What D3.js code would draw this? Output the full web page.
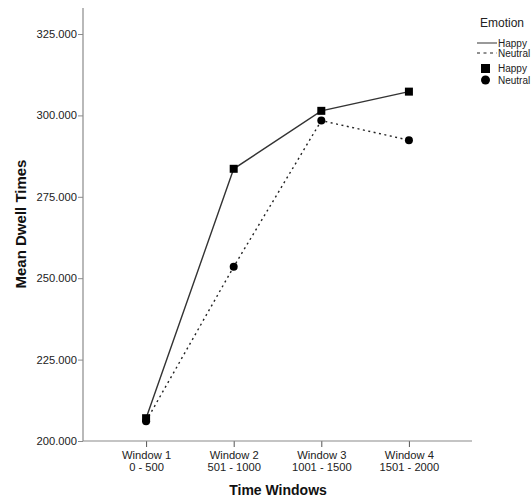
<!DOCTYPE html>
<html>
<head>
<meta charset="utf-8">
<script src="https://cdn.jsdelivr.net/npm/d3@7"></script>
<style>
  html, body { margin: 0; padding: 0; background: #fff; }
  svg { display: block; font-family: Arial, "Liberation Sans", sans-serif; }
</style>
</head>
<body>
<svg id="chart" width="532" height="500"></svg>
<script>
// Time windows (two-line labels) and mean dwell times per emotion
const windows = ["Window 1", "Window 2", "Window 3", "Window 4"];
const windowRanges = ["0 - 500", "501 - 1000", "1001 - 1500", "1501 - 2000"];
const happyValues = [207.0, 283.6, 301.4, 307.3];
const neutralValues = [206.1, 253.5, 298.4, 292.4];
const yTicks = [200, 225, 250, 275, 300, 325];
const legendLabels = ["Happy", "Neutral"];

const svg = d3.select("#chart");
const axisColor = "#8a8a8a";
const inkColor = "#222";

const plotLeft = 83, plotRight = 472, plotTop = 8, plotBottom = 441;

const x = d3.scalePoint().domain(windows).range([plotLeft, plotRight]).padding(0.72);
const y = d3.scaleLinear().domain([200, 325]).range([plotBottom, 34]);

// Y axis
const yAxis = svg.append("g").attr("transform", `translate(${plotLeft},0)`)
  .call(d3.axisLeft(y).tickValues(yTicks).tickSize(5).tickPadding(1)
    .tickFormat(d3.format(".3f")));
yAxis.select(".domain").remove();
yAxis.selectAll(".tick line").attr("stroke", axisColor);
yAxis.selectAll(".tick text").attr("fill", inkColor).style("font-size", "11.2px");
svg.append("line").attr("x1", plotLeft).attr("x2", plotLeft).attr("y1", plotTop).attr("y2", plotBottom)
  .attr("stroke", axisColor).attr("stroke-width", 1.2);

// X axis
const xAxis = svg.append("g").attr("transform", `translate(0,${plotBottom})`)
  .call(d3.axisBottom(x).tickSize(6).tickFormat(""));
xAxis.select(".domain").remove();
xAxis.selectAll(".tick line").attr("stroke", "#555");
svg.append("line").attr("x1", plotLeft).attr("x2", plotRight).attr("y1", plotBottom).attr("y2", plotBottom)
  .attr("stroke", axisColor).attr("stroke-width", 1.2);
xAxis.selectAll(".tick").each(function(d, i) {
  const t = d3.select(this).append("text")
    .attr("fill", inkColor).attr("text-anchor", "middle")
    .style("font-size", "11.2px");
  t.append("tspan").attr("x", 0).attr("y", 18).text(d);
  t.append("tspan").attr("x", 0).attr("y", 29.5).text(windowRanges[i]);
});

// Axis titles
svg.append("text").attr("x", 278).attr("y", 495)
  .attr("text-anchor", "middle").attr("font-weight", "bold")
  .style("font-size", "14px").attr("fill", "#111").text("Time Windows");
svg.append("text").attr("transform", "translate(26,224) rotate(-90)")
  .attr("text-anchor", "middle").attr("font-weight", "bold")
  .style("font-size", "15px").attr("fill", "#111").text("Mean Dwell Times");

// Lines
const line = d3.line().x((d, i) => x(windows[i])).y(d => y(d));
svg.append("path").datum(happyValues).attr("d", line)
  .attr("fill", "none").attr("stroke", "#333").attr("stroke-width", 1.4);
svg.append("path").datum(neutralValues).attr("d", line)
  .attr("fill", "none").attr("stroke", "#222").attr("stroke-width", 1.4)
  .attr("stroke-dasharray", "2,3.5");

// Markers
svg.selectAll(".neutral-pt").data(neutralValues).enter().append("circle")
  .attr("cx", (d, i) => x(windows[i])).attr("cy", d => y(d)).attr("r", 4)
  .attr("fill", "#000");
svg.selectAll(".happy-pt").data(happyValues).enter().append("rect")
  .attr("x", (d, i) => x(windows[i]) - 4).attr("y", d => y(d) - 4)
  .attr("width", 8).attr("height", 8).attr("fill", "#000");

// Legend
const lg = svg.append("g");
lg.append("text").attr("x", 480).attr("y", 27).style("font-size", "12px")
  .attr("fill", inkColor).text("Emotion");
lg.append("line").attr("x1", 477).attr("x2", 497).attr("y1", 43).attr("y2", 43)
  .attr("stroke", "#555").attr("stroke-width", 1.2);
lg.append("line").attr("x1", 477).attr("x2", 497).attr("y1", 53).attr("y2", 53)
  .attr("stroke", "#222").attr("stroke-width", 1.2).attr("stroke-dasharray", "3,3.5");
lg.append("rect").attr("x", 481).attr("y", 64).attr("width", 9).attr("height", 9).attr("fill", "#000");
lg.append("circle").attr("cx", 485.5).attr("cy", 80).attr("r", 4.5).attr("fill", "#000");
const legendYs = [46.5, 56.5, 72, 83.5];
[0, 1, 0, 1].forEach((k, i) => {
  lg.append("text").attr("x", 498).attr("y", legendYs[i]).style("font-size", "10px")
    .attr("fill", inkColor).text(legendLabels[k]);
});
</script>
</body>
</html>
